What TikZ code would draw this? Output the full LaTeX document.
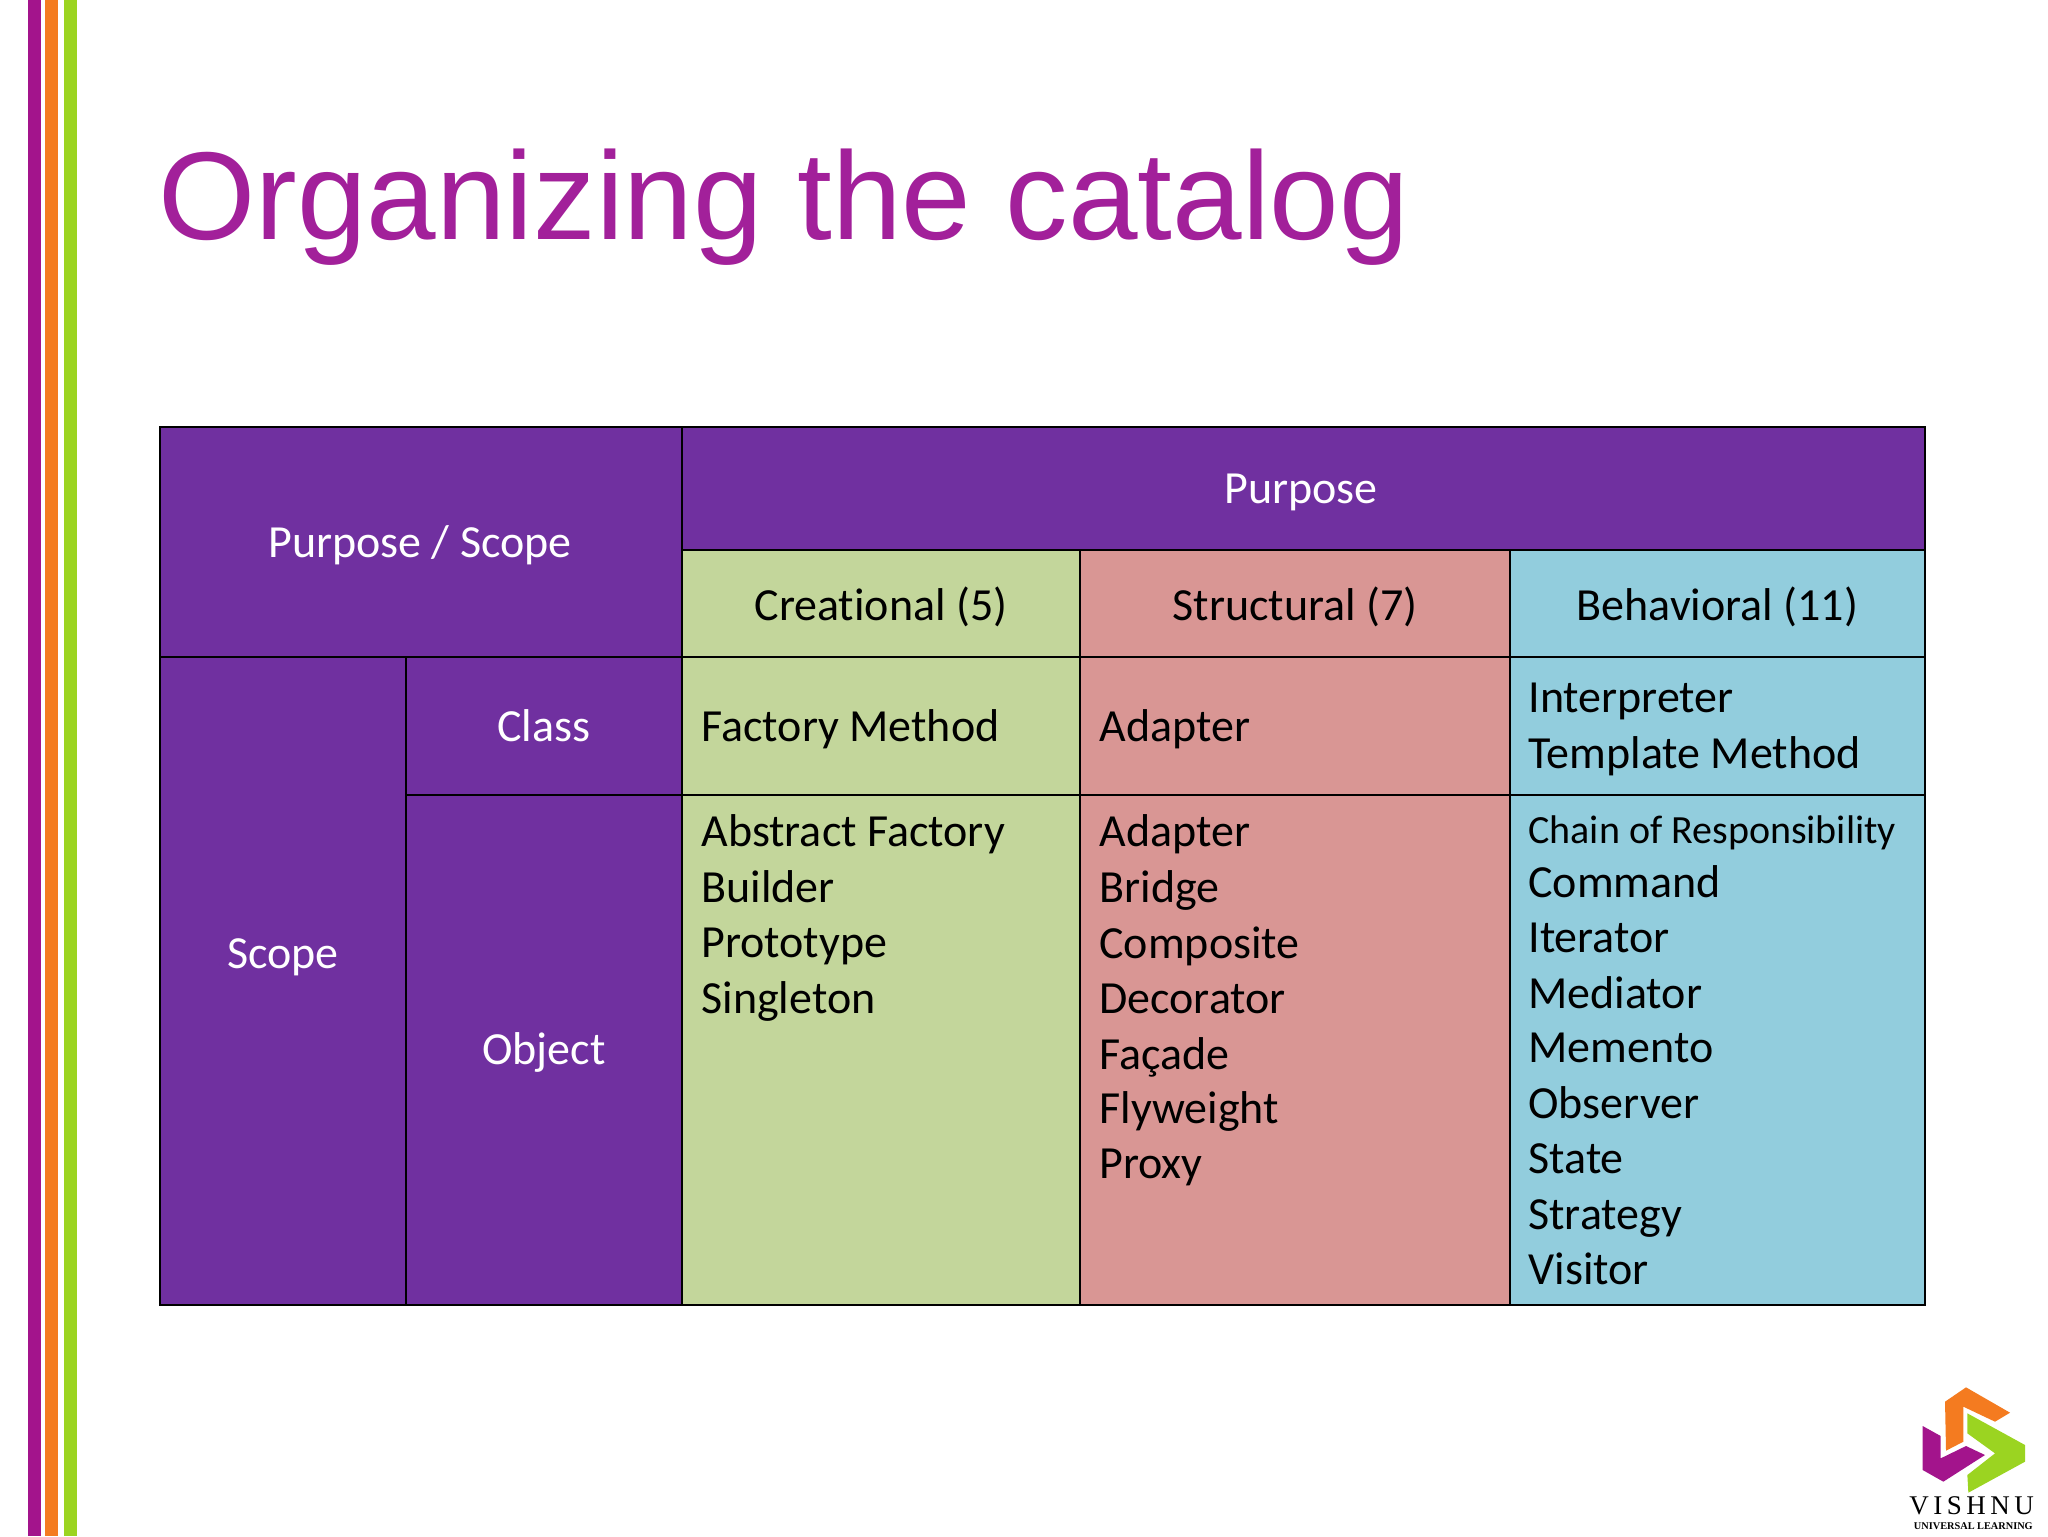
\documentclass[tikz,border=0pt]{standalone}
\usepackage{fontspec}
\setmainfont[Ligatures=NoCommon]{Carlito}
\newfontfamily\titlefont{Liberation Sans}
\newfontfamily\logofont{Liberation Serif}
\definecolor{hdrpurple}{HTML}{7030A0}
\definecolor{cellgreen}{HTML}{C3D69B}
\definecolor{cellred}{HTML}{D99694}
\definecolor{cellblue}{HTML}{92CDDD}
\definecolor{titlecol}{HTML}{A2209A}
\definecolor{stripepurple}{HTML}{A3148C}
\definecolor{stripeorange}{HTML}{F47B20}
\definecolor{stripegreen}{HTML}{9BD421}
\tikzset{
  cellbox/.style={rectangle,draw=black,line width=1pt,inner sep=0pt,outer sep=0pt},
  darkcell/.style={cellbox,fill=hdrpurple},
  listitem/.style={anchor=base west,inner sep=0pt,text=black,font=\fontsize{23}{27}\selectfont},
  smallitem/.style={listitem,font=\fontsize{20}{24}\selectfont},
  headtext/.style={inner sep=0pt,text=black,font=\fontsize{23}{27}\selectfont},
  whitetext/.style={headtext,text=white},
}
\begin{document}
\begin{tikzpicture}[x=0.5pt,y=-0.5pt]
\useasboundingbox (0,0) rectangle (2048,1536);
\fill[white] (0,0) rectangle (2048,1536);
% stripes
\fill[stripepurple] (28,0) rectangle (41,1536);
\fill[stripeorange] (45,0) rectangle (58,1536);
\fill[stripegreen] (64,0) rectangle (77,1536);
% title
\node[anchor=base west,inner sep=0pt,text=titlecol,font=\titlefont\fontsize{62.5}{70}\selectfont] (title) at (158,239) {Organizing the catalog};
% table cells
\node[darkcell,minimum width=261pt,minimum height=115pt] (ps) at (421,542) {};
\node[darkcell,minimum width=621.5pt,minimum height=61.5pt] (purpose) at (1303.5,488.5) {};
\node[cellbox,fill=cellgreen,minimum width=199pt,minimum height=53.5pt] (creat) at (881,603.5) {};
\node[cellbox,fill=cellred,minimum width=215pt,minimum height=53.5pt] (struct) at (1295,603.5) {};
\node[cellbox,fill=cellblue,minimum width=207.5pt,minimum height=53.5pt] (behav) at (1717.5,603.5) {};
\node[darkcell,minimum width=123pt,minimum height=324pt] (scopecell) at (283,981) {};
\node[darkcell,minimum width=138pt,minimum height=69pt] (class) at (544,726) {};
\node[darkcell,minimum width=138pt,minimum height=255pt] (object) at (544,1050) {};
\node[cellbox,fill=cellgreen,minimum width=199pt,minimum height=69pt] (g1) at (881,726) {};
\node[cellbox,fill=cellred,minimum width=215pt,minimum height=69pt] (r1) at (1295,726) {};
\node[cellbox,fill=cellblue,minimum width=207.5pt,minimum height=69pt] (b1) at (1717.5,726) {};
\node[cellbox,fill=cellgreen,minimum width=199pt,minimum height=255pt] (g2) at (881,1050) {};
\node[cellbox,fill=cellred,minimum width=215pt,minimum height=255pt] (r2) at (1295,1050) {};
\node[cellbox,fill=cellblue,minimum width=207.5pt,minimum height=255pt] (b2) at (1717.5,1050) {};
% header labels
\node[whitetext] (pstext) at (420,545) {Purpose / Scope};
\node[whitetext] (purposetext) at (1301,492.5) {Purpose};
\node[headtext] (creattext) at (881,606.5) {Creational (5)};
\node[headtext] (structtext) at (1295,606.5) {Structural (7)};
\node[headtext] (behavtext) at (1717.5,606.5) {Behavioral (11)};
\node[whitetext] (scopetext) at (283,957) {Scope};
\node[whitetext] (classtext) at (544,726) {Class};
\node[whitetext] (objecttext) at (544,1052) {Object};
% class row
\node[listitem] (t1) at (701,741) {Factory Method};
\node[listitem] (t2) at (1099,741) {Adapter};
\node[listitem] (t3) at (1528,712) {Interpreter};
\node[listitem] (t4) at (1528,768) {Template Method};
% creational objects
\node[listitem] (c1) at (701,846) {Abstract Factory};
\node[listitem] (c2) at (701,902) {Builder};
\node[listitem] (c3) at (701,957.5) {Prototype};
\node[listitem] (c4) at (701,1013) {Singleton};
% structural objects
\node[listitem] (s1) at (1099,846) {Adapter};
\node[listitem] (s2) at (1099,902) {Bridge};
\node[listitem] (s3) at (1099,958) {Composite};
\node[listitem] (s4) at (1099,1013) {Decorator};
\node[listitem] (s5) at (1099,1069) {Façade};
\node[listitem] (s6) at (1099,1123) {Flyweight};
\node[listitem] (s7) at (1099,1178) {Proxy};
% behavioral objects
\node[smallitem] (b01) at (1528,843) {Chain of Responsibility};
\node[listitem] (b02) at (1528,897) {Command};
\node[listitem] (b03) at (1528,952) {Iterator};
\node[listitem] (b04) at (1528,1008) {Mediator};
\node[listitem] (b05) at (1528,1062) {Memento};
\node[listitem] (b06) at (1528,1118) {Observer};
\node[listitem] (b07) at (1528,1173) {State};
\node[listitem] (b08) at (1528,1229) {Strategy};
\node[listitem] (b09) at (1528,1284) {Visitor};
% logo
\begin{scope}[shift={(1880,1370)},x=0.16667pt,y=-0.16667pt]
\fill[stripeorange] (195,95) -- (258,52) -- (390,128) -- (345,155) -- (250,110) -- (250,215) -- (198,242) -- cycle;
\fill[stripegreen] (262,130) -- (435,225) -- (435,275) -- (265,368) -- (262,315) -- (345,250) -- (262,190) -- cycle;
\fill[stripepurple] (128,168) -- (182,198) -- (182,265) -- (258,228) -- (315,255) -- (190,335) -- (128,300) -- cycle;
\node[inner sep=0pt,text=black,font=\logofont\fontsize{13.5}{15}\selectfont] (logoname) at (275,408) {V\,I\,S\,H\,N\,U};
\node[inner sep=0pt,text=black,font=\logofont\bfseries\fontsize{5.15}{7}\selectfont] (logosub) at (280,467) {UNIVERSAL LEARNING};
\end{scope}
\end{tikzpicture}
\end{document}
